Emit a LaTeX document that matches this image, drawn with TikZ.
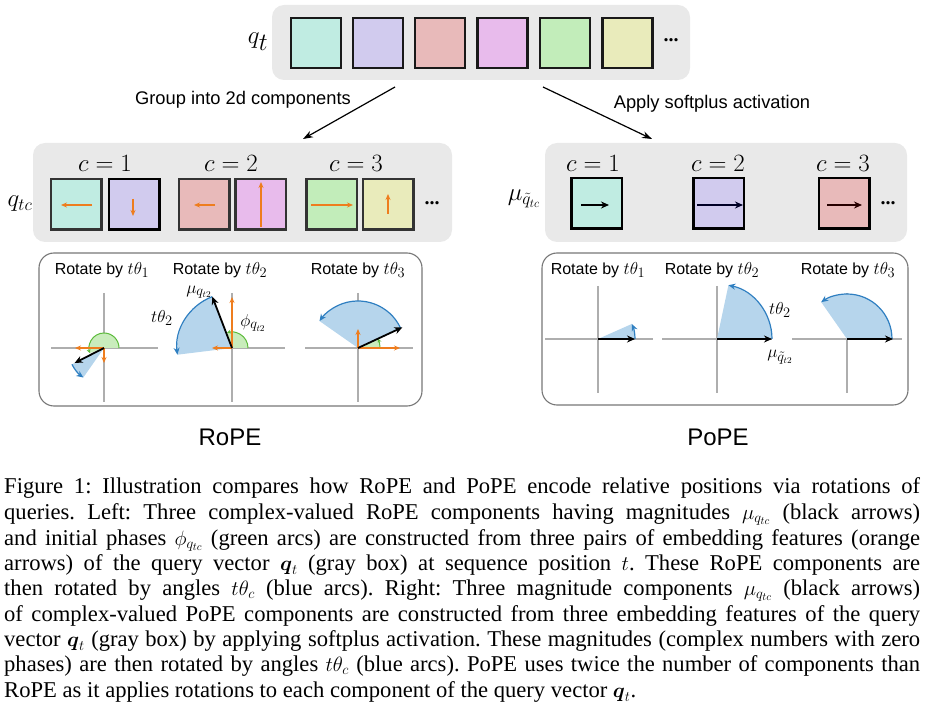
\documentclass[tikz,border=0pt]{standalone}
\usepackage{amsmath,amssymb}
\usepackage{fontspec}
\setmainfont{Liberation Serif}
\setsansfont{Liberation Sans}
\usetikzlibrary{arrows.meta}
\definecolor{cteal}{HTML}{C0ECE2}
\definecolor{clav}{HTML}{D1CBEE}
\definecolor{cpink}{HTML}{E8BABA}
\definecolor{cmag}{HTML}{E8BBEC}
\definecolor{cgreen}{HTML}{C2EDBA}
\definecolor{cyel}{HTML}{E9EBBB}
\definecolor{bggray}{HTML}{E9E9E9}
\definecolor{orng}{HTML}{EE7D1E}
\definecolor{axgray}{HTML}{AEAEAE}
\definecolor{grnfill}{HTML}{C9ECBC}
\definecolor{grnline}{HTML}{5CBB3B}
\definecolor{blufill}{HTML}{B6D5EC}
\definecolor{bluline}{HTML}{2F7FC1}
\definecolor{panelgray}{HTML}{777777}
\newcommand{\rotm}[1]{{\fontsize{19}{19}\selectfont$#1$}}
\frenchspacing
\begin{document}
\begin{tikzpicture}[x=1pt,y=-1pt,
  graybox/.style={fill=bggray,rounded corners=12pt,inner sep=0pt},
  topsq/.style={draw=black!90,line width=2.2pt,minimum size=50pt,inner sep=0pt},
  lsq/.style={draw=black!80,line width=2.5pt,minimum size=50.5pt,inner sep=0pt},
  rsq/.style={draw=black,line width=2.5pt,minimum size=50.5pt,inner sep=0pt},
  panel/.style={draw=panelgray,line width=1.1pt,rounded corners=15pt,inner sep=0pt},
  flow/.style={line width=1.2pt,-{Stealth[length=10pt,width=7pt]}},
  orarrow/.style={draw=orng,line width=1.4pt,-{Stealth[length=6pt,width=5pt]}},
  vec/.style={draw=black,line width=1.8pt,-{Stealth[length=8pt,width=7pt]}},
  axis/.style={draw=axgray,line width=1.1pt},
  grnarc/.style={draw=grnline,line width=1pt,-{Stealth[length=4pt,width=4pt]}},
  bluarc/.style={draw=bluline,line width=1.2pt,-{Stealth[length=7pt,width=6pt]}},
  mlab/.style={font=\fontsize{23}{23}\selectfont,inner sep=0pt},
  rot/.style={font=\sffamily\fontsize{16}{16}\selectfont,inner sep=0pt},
  plab/.style={font=\fontsize{19}{19}\selectfont,inner sep=0pt},
  dots/.style={font=\bfseries\fontsize{20}{20}\selectfont,inner sep=0pt},
  flowlab/.style={font=\sffamily\fontsize{18.3}{19}\selectfont,inner sep=0pt},
  captxt/.style={anchor=base west,inner sep=0pt,font=\fontsize{22.6}{25}\selectfont}
]
\useasboundingbox (0,0) rectangle (927,708);

% ---------- top vector ----------
\node[graybox,minimum width=418pt,minimum height=75pt] (top) at (481,42.5) {};
\node[font=\fontsize{33}{33}\selectfont,inner sep=0pt] (qt) at (258,42) {$q_t$};
\node[topsq,fill=cteal] (t1) at (316,43) {};
\node[topsq,fill=clav] (t2) at (378,43) {};
\node[topsq,fill=cpink] (t3) at (440,43) {};
\node[topsq,fill=cmag] (t4) at (502.5,43) {};
\node[topsq,fill=cgreen] (t5) at (565,43) {};
\node[topsq,fill=cyel] (t6) at (627.5,43) {};
\node[dots] (tdots) at (671,40) {...};

% ---------- flow arrows ----------
\coordinate (g1s) at (395,87);
\coordinate (g1e) at (303,139);
\coordinate (g2s) at (543,87);
\coordinate (g2e) at (652,139);
\draw[flow] (g1s) -- (g1e);
\draw[flow] (g2s) -- (g2e);
\node[flowlab] (grp) at (243,100) {Group into 2d components};
\node[flowlab] (sfp) at (712,104) {Apply softplus activation};

% ---------- left gray box ----------
\node[graybox,minimum width=419pt,minimum height=99pt] (lbox) at (242.5,192.5) {};
\node[font=\fontsize{23}{23}\selectfont,inner sep=0pt] (qtc) at (20,204) {$q_{tc}$};
\node[mlab] (lc1) at (105,163) {$c=1$};
\node[mlab] (lc2) at (231,163) {$c=2$};
\node[mlab] (lc3) at (356,163) {$c=3$};
\node[lsq,fill=cteal] (l1) at (76,204.5) {};
\node[lsq,fill=clav,draw=black] (l2) at (134,204.5) {};
\node[lsq,fill=cpink] (l3) at (204,204.5) {};
\node[lsq,fill=cmag] (l4) at (260.5,204.5) {};
\node[lsq,fill=cgreen] (l5) at (331.5,204.5) {};
\node[lsq,fill=cyel] (l6) at (388,204.5) {};
\node[dots] (ldots) at (432,203) {...};
\draw[orarrow] (92,205) -- (61,205);
\draw[orarrow] (133,199) -- (133,216);
\draw[orarrow] (215,205) -- (194,205);
\draw[orarrow] (261,227) -- (261,182);
\draw[orarrow] (311,205) -- (353,205);
\draw[orarrow] (388,214) -- (388,194);

% ---------- right gray box ----------
\node[graybox,minimum width=362pt,minimum height=99pt] (rbox) at (726,192.5) {};
\node[font=\fontsize{23}{23}\selectfont,inner sep=0pt] (mu) at (524,199) {$\mu_{\tilde{q}_{tc}}$};
\node[mlab] (rc1) at (593,163) {$c=1$};
\node[mlab] (rc2) at (718,163) {$c=2$};
\node[mlab] (rc3) at (843,163) {$c=3$};
\node[rsq,fill=cteal] (r1) at (596.5,203.5) {};
\node[rsq,fill=clav] (r2) at (718.5,203.5) {};
\node[rsq,fill=cpink] (r3) at (844,203.5) {};
\node[dots] (rdots) at (888,203) {...};
\draw[vec,line width=1.5pt] (581,205) -- (609,205);
\draw[vec,line width=1.5pt,draw=black!85!blue] (697,205) -- (743,205);
\draw[vec,line width=1.5pt,draw=black!85!red] (827,205) -- (862,205);

% ---------- panels ----------
\node[panel,minimum width=383pt,minimum height=153pt] (lpanel) at (230.5,329.5) {};
\node[panel,minimum width=366pt,minimum height=152pt] (rpanel) at (725,329) {};
\node[font=\sffamily\fontsize{24}{24}\selectfont,inner sep=0pt] (rope) at (230,437) {RoPE};
\node[font=\sffamily\fontsize{24}{24}\selectfont,inner sep=0pt] (pope) at (718,437) {PoPE};

\node[rot] (lr1) at (102,270) {Rotate by \rotm{t\theta_1}};
\node[rot] (lr2) at (220,270) {Rotate by \rotm{t\theta_2}};
\node[rot] (lr3) at (358,270) {Rotate by \rotm{t\theta_3}};
\node[rot] (rr1) at (598,270) {Rotate by \rotm{t\theta_1}};
\node[rot] (rr2) at (712,270) {Rotate by \rotm{t\theta_2}};
\node[rot] (rr3) at (848,270) {Rotate by \rotm{t\theta_3}};

% left plot 1
\begin{scope}[shift={(104,348)}]
  \draw[axis] (-53pt,0pt) -- (54pt,0pt);
  \draw[axis] (0pt,55pt) -- (0pt,-54pt);
  \fill[blufill] (0pt,0pt) -- (207:36pt) arc[start angle=207,end angle=235,radius=36pt] -- cycle;
  \fill[grnfill] (0pt,0pt) -- (15pt,0pt) arc[start angle=0,end angle=200,radius=15pt] -- cycle;
  \draw[grnarc] (15pt,0pt) arc[start angle=0,end angle=200,radius=15pt];
  \draw[bluarc] (207:36pt) arc[start angle=207,end angle=235,radius=36pt];
  \draw[orarrow] (0pt,0pt) -- (-29pt,0pt);
  \draw[orarrow] (0pt,0pt) -- (0pt,-15pt);
  \draw[vec] (0pt,0pt) -- (207:33pt);
\end{scope}
% left plot 2
\begin{scope}[shift={(232,348)}]
  \draw[axis] (-55pt,0pt) -- (53pt,0pt);
  \draw[axis] (0pt,55pt) -- (0pt,-54pt);
  \fill[blufill] (0pt,0pt) -- (111:55pt) arc[start angle=111,end angle=187,radius=55pt] -- cycle;
  \fill[grnfill] (0pt,0pt) -- (16pt,0pt) arc[start angle=0,end angle=108,radius=16pt] -- cycle;
  \draw[grnarc] (16pt,0pt) arc[start angle=0,end angle=108,radius=16pt];
  \draw[bluarc] (111:55pt) arc[start angle=111,end angle=187,radius=55pt];
  \draw[orarrow] (0pt,0pt) -- (0pt,51pt);
  \draw[orarrow] (0pt,0pt) -- (-20pt,0pt);
  \draw[vec] (0pt,0pt) -- (111:55pt);
\end{scope}
\node[plab] (mq2) at (199,292) {$\mu_{q_{t2}}$};
\node[plab] (tt2) at (162,318) {$t\theta_2$};
\node[plab] (ph2) at (253,323) {$\phi_{q_{t2}}$};
% left plot 3
\begin{scope}[shift={(358,348)}]
  \draw[axis] (-53pt,0pt) -- (55pt,0pt);
  \draw[axis] (0pt,55pt) -- (0pt,-54pt);
  \fill[blufill] (0pt,0pt) -- (25:47pt) arc[start angle=25,end angle=145,radius=47pt] -- cycle;
  \fill[grnfill] (0pt,0pt) -- (22pt,0pt) arc[start angle=0,end angle=25,radius=22pt] -- cycle;
  \draw[grnarc] (22pt,0pt) arc[start angle=0,end angle=25,radius=22pt];
  \draw[bluarc] (25:47pt) arc[start angle=25,end angle=145,radius=47pt];
  \draw[orarrow] (0pt,0pt) -- (42pt,0pt);
  \draw[orarrow] (0pt,0pt) -- (0pt,19pt);
  \draw[vec] (0pt,0pt) -- (25:49pt);
\end{scope}
% right plot 1
\begin{scope}[shift={(598,339)}]
  \draw[axis] (-53pt,0pt) -- (55pt,0pt);
  \draw[axis] (0pt,53pt) -- (0pt,-54pt);
  \fill[blufill] (0pt,0pt) -- (37pt,0pt) arc[start angle=0,end angle=24,radius=37pt] -- cycle;
  \draw[bluarc] (37pt,0pt) arc[start angle=0,end angle=24,radius=37pt];
  \draw[vec] (0pt,0pt) -- (37pt,0pt);
\end{scope}
% right plot 2
\begin{scope}[shift={(717,339)}]
  \draw[axis] (-55pt,0pt) -- (55pt,0pt);
  \draw[axis] (0pt,53pt) -- (0pt,-54pt);
  \fill[blufill] (0pt,0pt) -- (55pt,0pt) arc[start angle=0,end angle=78,radius=55pt] -- cycle;
  \draw[bluarc] (55pt,0pt) arc[start angle=0,end angle=78,radius=55pt];
  \draw[vec] (0pt,0pt) -- (55pt,0pt);
\end{scope}
\node[plab] (rt2) at (780,310) {$t\theta_2$};
\node[plab] (rm2) at (780,357) {$\mu_{\tilde{q}_{t2}}$};
% right plot 3
\begin{scope}[shift={(847,339)}]
  \draw[axis] (-55pt,0pt) -- (55pt,0pt);
  \draw[axis] (0pt,46pt) -- (0pt,-54pt);
  \fill[blufill] (0pt,0pt) -- (45pt,0pt) arc[start angle=0,end angle=125,radius=45pt] -- cycle;
  \draw[bluarc] (45pt,0pt) arc[start angle=0,end angle=125,radius=45pt];
  \draw[vec] (0pt,0pt) -- (46pt,0pt);
\end{scope}

% ---------- caption ----------
\node[captxt] (cap1) at (4,494) {\makebox[916pt][s]{Figure 1: Illustration compares how RoPE and PoPE encode relative positions via rotations of}};
\node[captxt] (cap2) at (4,519.5) {\makebox[916pt][s]{queries. Left: Three complex-valued RoPE components having magnitudes $\mu_{q_{tc}}$ (black arrows)}};
\node[captxt] (cap3) at (4,545) {\makebox[916pt][s]{and initial phases $\phi_{q_{tc}}$ (green arcs) are constructed from three pairs of embedding features (orange}};
\node[captxt] (cap4) at (4,570) {\makebox[916pt][s]{arrows) of the query vector $\boldsymbol{q}_t$ (gray box) at sequence position $t$. These RoPE components are}};
\node[captxt] (cap5) at (4,595.5) {\makebox[916pt][s]{then rotated by angles $t\theta_c$ (blue arcs). Right: Three magnitude components $\mu_{q_{tc}}$ (black arrows)}};
\node[captxt] (cap6) at (4,621) {\makebox[916pt][s]{of complex-valued PoPE components are constructed from three embedding features of the query}};
\node[captxt] (cap7) at (4,646) {\makebox[916pt][s]{vector $\boldsymbol{q}_t$ (gray box) by applying softplus activation. These magnitudes (complex numbers with zero}};
\node[captxt] (cap8) at (4,671.5) {\makebox[916pt][s]{phases) are then rotated by angles $t\theta_c$ (blue arcs). PoPE uses twice the number of components than}};
\node[captxt] (cap9) at (4,697) {RoPE as it applies rotations to each component of the query vector $\boldsymbol{q}_t$.};
\end{tikzpicture}
\end{document}
